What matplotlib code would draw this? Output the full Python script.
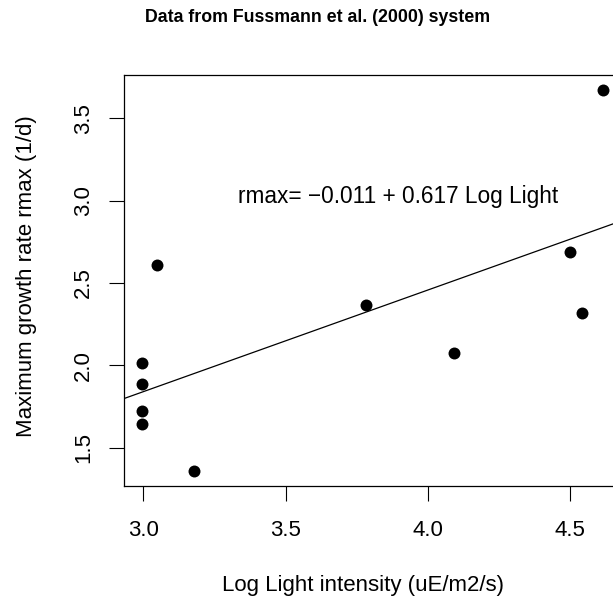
import matplotlib
matplotlib.use('Agg')
import matplotlib.pyplot as plt

# Fussmann et al. (2000) light data
log_light = [2.996, 2.996, 2.996, 2.996, 3.047, 3.179, 3.784, 4.094, 4.500, 4.542, 4.615]
rmax = [2.016, 1.886, 1.725, 1.644, 2.607, 1.357, 2.369, 2.077, 2.686, 2.318, 3.672]

intercept = -0.011
slope = 0.617

x_ticks = [3.0, 3.5, 4.0, 4.5]
y_ticks = [1.5, 2.0, 2.5, 3.0, 3.5]

plt.rcParams['font.family'] = ['Liberation Sans', 'DejaVu Sans']

W, H = 613, 600
fig = plt.figure(figsize=(W / 100, H / 100), dpi=100)
ax = fig.add_axes([124 / W, 114 / H, 501.4 / W, 411.3 / H])

ax.plot(log_light, rmax, 'o', color='black', markersize=8.6, markeredgewidth=0)
ax.axline((0, intercept), slope=slope, color='black', lw=0.9)

ax.set_xlim(2.932, 4.695)
ax.set_ylim(1.267, 3.765)
ax.set_xticks(x_ticks)
ax.set_xticklabels(['3.0', '3.5', '4.0', '4.5'])
ax.set_yticks(y_ticks)
ax.set_yticklabels(['1.5', '2.0', '2.5', '3.0', '3.5'], rotation=90, va='center')
ax.tick_params(axis='both', direction='out', length=10.5, width=0.8, labelsize=16)
ax.tick_params(axis='x', pad=14)
ax.tick_params(axis='y', pad=11)
for s in ax.spines.values():
    s.set_linewidth(0.9)

ax.text(3.894, 3.025, 'rmax= \u22120.011 + 0.617 Log Light', fontsize=16.3, ha='center', va='center')

fig.text(317.5 / W, 1 - 17 / H, 'Data from Fussmann et al. (2000) system',
         fontsize=12.8, fontweight='bold', ha='center', va='center')
fig.text(363 / W, 1 - 586 / H, 'Log Light intensity (uE/m2/s)', fontsize=16, ha='center', va='center')
fig.text(27 / W, 1 - 276 / H, 'Maximum growth rate rmax (1/d)', fontsize=16,
         rotation=90, ha='center', va='center')

fig.savefig('out.png', dpi=100)
